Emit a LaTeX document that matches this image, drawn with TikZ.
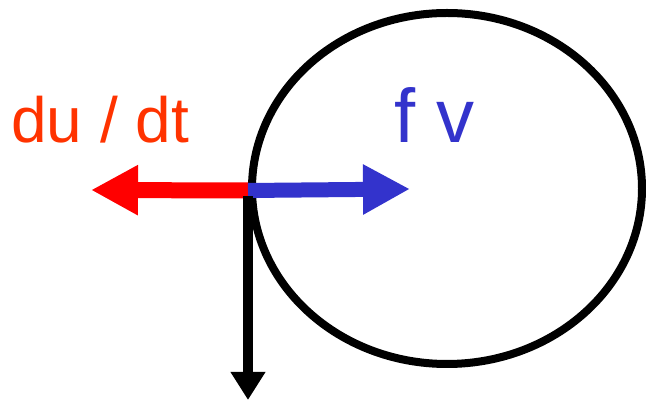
\documentclass[tikz,border=0pt]{standalone}
\usepackage{fontspec}
\setmainfont{Liberation Sans}
\usetikzlibrary{arrows.meta,shapes.geometric}
\definecolor{dured}{HTML}{FF3300}
\definecolor{fvblue}{HTML}{3333CC}

\begin{document}
\begin{tikzpicture}[x=1pt,y=1pt,
  loop/.style={ellipse,draw,line width=8pt,inner sep=0pt,minimum width=390pt,minimum height=351pt},
  ared/.style={draw=red,line width=16pt,-{Triangle[length=47pt,width=47pt]}},
  ablue/.style={draw=fvblue,line width=15pt,-{Triangle[length=47pt,width=47pt]}},
  adown/.style={draw=black,line width=10pt,-{Triangle[length=28pt,width=33pt]}},
  lab/.style={inner sep=0pt,anchor=base west}]
\useasboundingbox (0,0) rectangle (646,401);

% the loop
\node[loop] (c) at (447,212.5) {};
\coordinate (o) at (c.west);

% the two horizontal arrows
\coordinate (l) at (91,211);
\coordinate (r) at (410,212);
\draw[ared] ([yshift=-2pt]o) -- (l);
\draw[ablue] ([yshift=-2pt]o) -- (r);

% the way down
\coordinate (d) at (251,1);
\draw[adown] ([yshift=-8pt]o) -- (o |- d);

% labels
\node[lab,text=dured,font=\fontsize{64}{64}\selectfont] (du) at (11,258) {du / dt};
\node[lab,text=fvblue,font=\fontsize{76}{76}\selectfont] (fv) at (394,258) {f v};
\end{tikzpicture}
\end{document}
